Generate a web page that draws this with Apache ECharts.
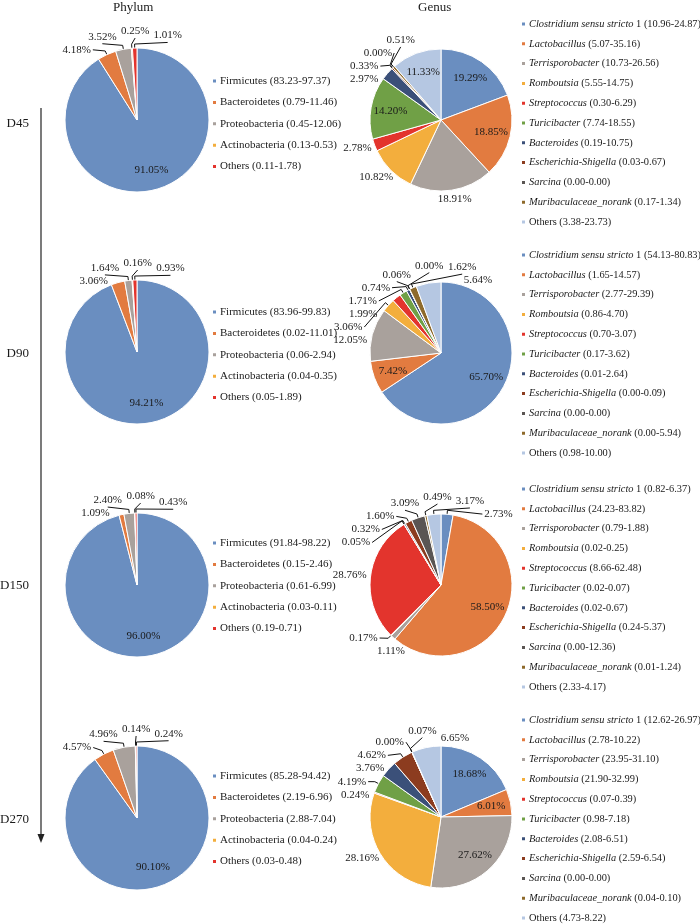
<!DOCTYPE html>
<html><head><meta charset="utf-8">
<script src="https://cdn.jsdelivr.net/npm/echarts@6/dist/echarts.min.js"></script>
<style>html,body{margin:0;padding:0;background:#fff}#c{width:700px;height:924px}</style>
</head><body><div id="c"></div>
<script>
// ---------- data ----------
const periods = ['D45', 'D90', 'D150', 'D270'];
const panelTitles = ['Phylum', 'Genus'];

const phylumNames = ['Firmicutes', 'Bacteroidetes', 'Proteobacteria', 'Actinobacteria', 'Others'];
const phylumD45  = [91.05, 4.18, 3.52, 0.25, 1.01];
const phylumD90  = [94.21, 3.06, 1.64, 0.16, 0.93];
const phylumD150 = [96.00, 1.09, 2.40, 0.08, 0.43];
const phylumD270 = [90.10, 4.57, 4.96, 0.14, 0.24];
const phylumRangeD45  = ['83.23-97.37', '0.79-11.46', '0.45-12.06', '0.13-0.53', '0.11-1.78'];
const phylumRangeD90  = ['83.96-99.83', '0.02-11.01', '0.06-2.94', '0.04-0.35', '0.05-1.89'];
const phylumRangeD150 = ['91.84-98.22', '0.15-2.46', '0.61-6.99', '0.03-0.11', '0.19-0.71'];
const phylumRangeD270 = ['85.28-94.42', '2.19-6.96', '2.88-7.04', '0.04-0.24', '0.03-0.48'];

const genusNames = ['Clostridium sensu stricto 1', 'Lactobacillus', 'Terrisporobacter', 'Romboutsia',
  'Streptococcus', 'Turicibacter', 'Bacteroides', 'Escherichia-Shigella', 'Sarcina',
  'Muribaculaceae_norank', 'Others'];
const genusD45  = [19.29, 18.85, 18.91, 10.82, 2.78, 14.20, 2.97, 0.33, 0.00, 0.51, 11.33];
const genusD90  = [65.70, 7.42, 12.05, 3.06, 1.99, 1.71, 0.74, 0.06, 0.00, 1.62, 5.64];
const genusD150 = [2.73, 58.50, 1.11, 0.17, 28.76, 0.05, 0.32, 1.60, 3.09, 0.49, 3.17];
const genusD270 = [18.68, 6.01, 27.62, 28.16, 0.24, 4.19, 3.76, 4.62, 0.00, 0.07, 6.65];
const genusRangeD45  = ['10.96-24.87', '5.07-35.16', '10.73-26.56', '5.55-14.75', '0.30-6.29', '7.74-18.55', '0.19-10.75', '0.03-0.67', '0.00-0.00', '0.17-1.34', '3.38-23.73'];
const genusRangeD90  = ['54.13-80.83', '1.65-14.57', '2.77-29.39', '0.86-4.70', '0.70-3.07', '0.17-3.62', '0.01-2.64', '0.00-0.09', '0.00-0.00', '0.00-5.94', '0.98-10.00'];
const genusRangeD150 = ['0.82-6.37', '24.23-83.82', '0.79-1.88', '0.02-0.25', '8.66-62.48', '0.02-0.07', '0.02-0.67', '0.24-5.37', '0.00-12.36', '0.01-1.24', '2.33-4.17'];
const genusRangeD270 = ['12.62-26.97', '2.78-10.22', '23.95-31.10', '21.90-32.99', '0.07-0.39', '0.98-7.18', '2.08-6.51', '2.59-6.54', '0.00-0.00', '0.04-0.10', '4.73-8.22'];

// ---------- styles / layout ----------
const FONT = '"Liberation Serif","Times New Roman",serif';
const TXT = '#1a1a1a';
const phylumColors = ['#6a8ec0', '#e27b40', '#a9a19c', '#f3ae3d', '#e3342d'];
const genusColors = ['#6a8ec0', '#e27b40', '#a9a19c', '#f3ae3d', '#e3342d', '#70a046', '#3b5079', '#8c3c1f', '#5a5553', '#8e6a2b', '#b5c7e2'];

const layout = {
  phylum: { cx: 137, cy: [120, 352, 585, 818], r: 72, legendLeft: 211, legendTop: [74, 305, 536, 769], itemGap: 7.4, legendFont: 11 },
  genus:  { cx: 441, cy: [120, 353, 585, 817], r: 71, legendLeft: 520, legendTop: [17, 248, 482, 713], itemGap: 5.8, legendFont: 10.4 }
};
// which labels sit inside the slice, which outside labels have no leader line
const labelPlan = {
  phylum: [{ inside: [0], noLine: [] }, { inside: [0], noLine: [1] }, { inside: [0], noLine: [1] }, { inside: [0], noLine: [] }],
  genus: [{ inside: [0, 1, 5, 10], noLine: [2, 3, 4, 6] }, { inside: [0, 1], noLine: [2, 4, 10] },
          { inside: [1], noLine: [2, 4] }, { inside: [0, 1, 2], noLine: [3, 4, 6, 10] }]
};

const phylumValues = [phylumD45, phylumD90, phylumD150, phylumD270];
const phylumRanges = [phylumRangeD45, phylumRangeD90, phylumRangeD150, phylumRangeD270];
const genusValues = [genusD45, genusD90, genusD150, genusD270];
const genusRanges = [genusRangeD45, genusRangeD90, genusRangeD150, genusRangeD270];

const pctText = v => Number(v).toFixed(2) + '%';
const pct = p => pctText(p.value);
const labelText = { fontFamily: FONT, fontSize: 11, color: TXT };

// ---------- Excel-like outside label placement (computed from the slice angles) ----------
const measureCtx = document.createElement('canvas').getContext('2d');
measureCtx.font = '11px "Liberation Serif"';
const rad = d => d * Math.PI / 180;

function placeOutsideLabels(cx, cy, r, vals, plan) {
  const total = vals.reduce((a, b) => a + b, 0);
  let cum = 0;
  const items = [];
  vals.forEach((v, i) => {
    const mid = (cum + v / 2) / total * 360;
    cum += v;
    if (plan.inside.includes(i)) return;
    const noLine = plan.noLine.includes(i);
    const phi = mid >= 270 ? mid - 360 : mid;
    items.push({ i, theta: phi, phi, noLine,
      w: measureCtx.measureText(pctText(v)).width + 2, h: 12, R: r + (noLine ? 3 : 11) });
  });
  items.sort((a, b) => a.theta - b.theta);
  const box = it => {
    const ux = Math.sin(rad(it.phi)), uy = -Math.cos(rad(it.phi));
    const x = cx + it.R * ux + ux * it.w / 2, y = cy + it.R * uy + uy * it.h / 2;
    return { x, y, ux, uy, x0: x - it.w / 2, x1: x + it.w / 2, y0: y - it.h / 2, y1: y + it.h / 2 };
  };
  const overlap = (a, b) => a.x0 < b.x1 + 2 && b.x0 < a.x1 + 2 && a.y0 < b.y1 + 1 && b.y0 < a.y1 + 1;
  for (let iter = 0; iter < 3000; iter++) {
    let moved = false;
    for (let k = 0; k < items.length; k++) {
      for (let m = k + 1; m < items.length; m++) {
        if (overlap(box(items[k]), box(items[m]))) { items[k].phi -= 0.2; items[m].phi += 0.2; moved = true; }
      }
    }
    if (!moved) break;
  }
  const out = {};
  items.forEach(it => {
    const b = box(it);
    const tx = Math.sin(rad(it.theta)), ty = -Math.cos(rad(it.theta));
    const P = [cx + r * tx, cy + r * ty];
    const B = [cx + (r + 4) * tx, cy + (r + 4) * ty];
    let A;
    if (Math.abs(b.ux) >= 0.5) A = [b.ux < 0 ? b.x1 + 1 : b.x0 - 1, b.y];
    else A = [b.x, b.uy < 0 ? b.y1 + 1 : b.y0 - 1];
    out[it.i] = { x: b.x, y: b.y, noLine: it.noLine, pts: [P, B, A] };
  });
  return out;
}

const series = [];
const legends = [];

function legendLabel(kind, name, range) {
  if (kind === 'phylum' || name === 'Others') return '{n|' + name + ' (' + range + ')}';
  if (name === 'Clostridium sensu stricto 1') return '{i|Clostridium sensu stricto}{n| 1 (' + range + ')}';
  return '{i|' + name + '}{n| (' + range + ')}';
}

function build(kind, names, valuesList, rangesList, colors) {
  const L = layout[kind];
  periods.forEach((per, k) => {
    const vals = valuesList[k];
    const plan = labelPlan[kind][k];
    const key = n => per + '|' + kind + '|' + n;
    const placed = placeOutsideLabels(L.cx, L.cy[k], L.r, vals, plan);
    const main = names.map((n, i) => {
      const inside = plan.inside.includes(i);
      const noLine = plan.noLine.includes(i);
      return {
        name: key(n), value: vals[i],
        itemStyle: { color: colors[i] },
        label: { show: !inside },
        labelLine: { show: !inside && !noLine }
      };
    });
    series.push({
      type: 'pie', center: [L.cx, L.cy[k]], radius: L.r, startAngle: 90, clockwise: true,
      avoidLabelOverlap: false, animation: false,
      itemStyle: { borderColor: '#fff', borderWidth: 1 },
      label: Object.assign({ position: 'outside', formatter: pct }, labelText),
      labelLine: { length: 6, length2: 4, lineStyle: { color: '#111', width: 1 } },
      labelLayout: params => {
        const p = placed[params.dataIndex];
        if (!p) return {};
        const res = { x: p.x, y: p.y, align: 'center', verticalAlign: 'middle' };
        if (!p.noLine) res.labelLinePoints = p.pts;
        return res;
      },
      emphasis: { disabled: true },
      data: main
    });
    // label carrier for inside labels (placed at ~0.68 r)
    series.push({
      type: 'pie', center: [L.cx, L.cy[k]], radius: L.r * 1.36, startAngle: 90, clockwise: true,
      silent: true, animation: false, legendHoverLink: false, z: 3,
      itemStyle: { color: 'rgba(0,0,0,0)', borderWidth: 0 },
      label: Object.assign({ position: 'inside', formatter: pct }, labelText),
      labelLine: { show: false },
      emphasis: { disabled: true },
      data: names.map((n, i) => ({ name: key(n) + '#lbl', value: vals[i], label: { show: plan.inside.includes(i) } }))
    });
    const fs = L.legendFont;
    legends.push({
      orient: 'vertical', left: L.legendLeft, top: L.legendTop[k], height: 240, itemGap: L.itemGap,
      itemWidth: 5, itemHeight: 5, icon: 'rect', selectedMode: false, padding: 0,
      data: names.map((n, i) => ({ name: key(n), itemStyle: { color: colors[i] } })),
      formatter: nm => { const n = nm.split('|')[2]; return legendLabel(kind, n, rangesList[k][names.indexOf(n)]); },
      textStyle: {
        fontFamily: FONT, fontSize: fs, color: TXT, lineHeight: 14, padding: [0, 0, 0, -2],
        rich: {
          n: { fontFamily: FONT, fontSize: fs, color: TXT, lineHeight: 14 },
          i: { fontFamily: FONT, fontSize: fs, color: TXT, lineHeight: 14, fontStyle: 'italic' }
        }
      }
    });
  });
}
build('phylum', phylumNames, phylumValues, phylumRanges, phylumColors);
build('genus', genusNames, genusValues, genusRanges, genusColors);

const periodY = [124, 354, 586, 820];
const graphics = [
  { type: 'text', left: 113, top: 1, style: { text: panelTitles[0], font: '13px ' + FONT, fill: TXT } },
  { type: 'text', left: 418, top: 1, style: { text: panelTitles[1], font: '13px ' + FONT, fill: TXT } },
  { type: 'line', shape: { x1: 41, y1: 108, x2: 41, y2: 836 }, style: { stroke: '#222', lineWidth: 1.2 } },
  { type: 'polygon', shape: { points: [[37.5, 834], [44.5, 834], [41, 843]] }, style: { fill: '#222' } }
].concat(periods.map((p, k) => ({
  type: 'text', x: 29, y: periodY[k],
  style: { text: p, font: '13px ' + FONT, fill: TXT, align: 'right', verticalAlign: 'middle' }
})));

const chart = echarts.init(document.getElementById('c'), null, { renderer: 'canvas', width: 700, height: 924 });
chart.setOption({
  backgroundColor: '#fff',
  animation: false,
  tooltip: { show: false },
  legend: legends,
  series: series,
  graphic: graphics
});
</script>
</body></html>
